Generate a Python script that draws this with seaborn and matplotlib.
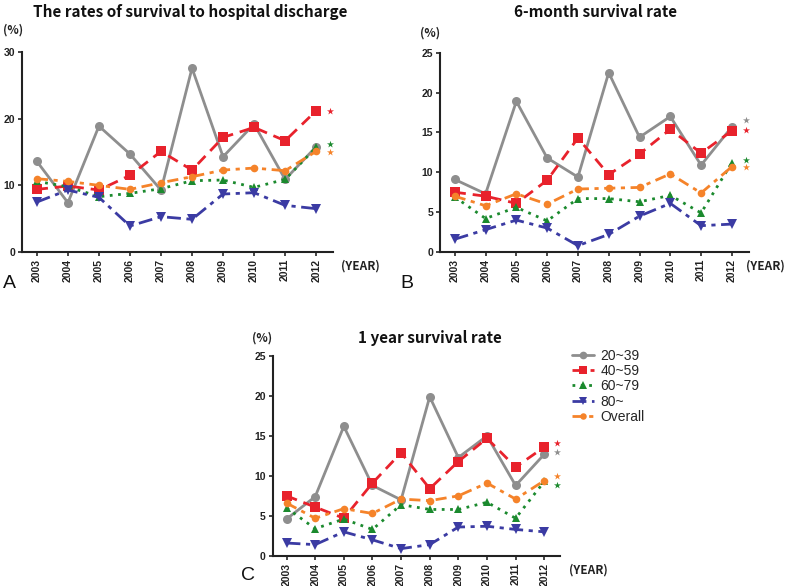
import pandas as pd
import matplotlib.pyplot as plt
import seaborn as sns

# Data
years = ["2003", "2004", "2005", "2006", "2007", "2008", "2009", "2010", "2011", "2012"]
groups = ["20~39", "40~59", "60~79", "80~", "Overall"]

# A: survival to hospital discharge
a_2039 = [13.6, 7.4, 18.9, 14.7, 9.3, 27.6, 14.3, 19.2, 10.9, 15.8]
a_4059 = [9.4, 9.9, 9.3, 11.5, 15.1, 12.3, 17.2, 18.7, 16.7, 21.2]
a_6079 = [10.6, 9.8, 8.3, 8.8, 9.5, 10.7, 10.8, 9.7, 10.9, 15.7]
a_80 = [7.5, 9.3, 8.2, 3.9, 5.3, 4.9, 8.7, 8.9, 7.0, 6.5]
a_all = [11.0, 10.6, 10.0, 9.4, 10.4, 11.3, 12.3, 12.6, 12.2, 15.1]

# B: 6-month survival
b_2039 = [9.1, 7.3, 18.9, 11.8, 9.4, 22.5, 14.4, 17.0, 10.9, 15.7]
b_4059 = [7.5, 7.0, 6.1, 9.0, 14.3, 9.7, 12.3, 15.4, 12.4, 15.2]
b_6079 = [6.9, 4.2, 5.6, 3.9, 6.7, 6.7, 6.3, 7.1, 4.9, 11.2]
b_80 = [1.6, 2.8, 4.0, 3.0, 0.8, 2.2, 4.5, 6.1, 3.3, 3.5]
b_all = [7.0, 5.8, 7.3, 6.0, 7.9, 8.0, 8.1, 9.8, 7.4, 10.7]

# C: 1 year survival
c_2039 = [4.6, 7.4, 16.2, 8.8, 7.0, 19.9, 12.3, 15.0, 8.8, 12.7]
c_4059 = [7.5, 6.1, 4.7, 9.1, 12.9, 8.4, 11.8, 14.7, 11.1, 13.6]
c_6079 = [6.0, 3.4, 4.6, 3.3, 6.4, 5.8, 5.8, 6.7, 4.7, 9.3]
c_80 = [1.6, 1.4, 3.0, 2.0, 0.9, 1.4, 3.6, 3.7, 3.3, 3.0]
c_all = [6.6, 4.7, 5.9, 5.3, 7.1, 6.9, 7.5, 9.1, 7.1, 9.4]

# significance stars (group, value)
a_stars = [("40~59", 21.2), ("60~79", 16.2), ("Overall", 15.0)]
b_stars = [("20~39", 16.5), ("40~59", 15.3), ("60~79", 11.6), ("Overall", 10.7)]
c_stars = [("40~59", 14.1), ("20~39", 13.0), ("Overall", 10.0), ("60~79", 8.9)]

colors = {"20~39": "#8e8e8e", "40~59": "#e8222c", "60~79": "#1b8a2e",
          "80~": "#3b3ba3", "Overall": "#f5832a"}
markers = {"20~39": "o", "40~59": "s", "60~79": "^", "80~": "v", "Overall": "o"}
msizes = {"20~39": 6.5, "40~59": 6.5, "60~79": 6, "80~": 6.5, "Overall": 5.5}
dashes = {"20~39": "-", "40~59": (0, (4, 2.5)), "60~79": (0, (1, 2)),
          "80~": (0, (5, 2, 1.5, 2)), "Overall": (0, (4, 2, 1.5, 2))}

sns.set_style("ticks")
plt.rcParams["font.family"] = ["Liberation Sans", "DejaVu Sans"]
HEAD = ["Noto Sans CJK KR", "DejaVu Sans"]

fig = plt.figure(figsize=(8, 5.86), dpi=100)


def panel(rect, series, stars, ymax, ystep, title, title_xy, pct_xy, year_xy, letter, letter_xy):
    ax = fig.add_axes(rect)
    df = pd.DataFrame({"year": years * len(groups),
                       "group": [g for g in groups for _ in years],
                       "value": [v for s in series for v in s]})
    for g in groups:
        d = df[df["group"] == g]
        sns.lineplot(data=d, x="year", y="value", ax=ax, color=colors[g],
                     marker=markers[g], markersize=msizes[g], markeredgewidth=0,
                     linestyle=dashes[g], linewidth=2, sort=False, label=g, legend=False)
    for g, v in stars:
        ax.scatter([len(years) - 1 + 0.45], [v], marker="*", s=28, color=colors[g],
                   linewidths=0, zorder=5, clip_on=False)
    ax.set_xlim(-0.48, len(years) - 1 + 0.55)
    ax.set_ylim(0, ymax)
    ax.set_yticks(range(0, ymax + 1, ystep))
    ax.set_xlabel("")
    ax.set_ylabel("")
    ax.tick_params(axis="x", rotation=90, labelsize=7.5, length=3, width=1.2, pad=2)
    ax.tick_params(axis="y", labelsize=7.5, length=3, width=1.2, pad=2)
    for lab in ax.get_xticklabels() + ax.get_yticklabels():
        lab.set_fontweight("bold")
        lab.set_color("#222222")
    for sp in ["left", "bottom"]:
        ax.spines[sp].set_linewidth(1.5)
        ax.spines[sp].set_color("#222222")
    sns.despine(ax=ax)
    fig.text(title_xy[0] / 800, 1 - title_xy[1] / 586, title, ha="center", va="center",
             fontsize=11, fontweight="bold", color="#111111", family=HEAD)
    fig.text(pct_xy[0] / 800, 1 - pct_xy[1] / 586, "(%)", ha="center", va="center",
             fontsize=8.5, fontweight="bold", color="#222222", family=HEAD)
    fig.text(year_xy[0] / 800, 1 - year_xy[1] / 586, "(YEAR)", ha="center", va="center",
             fontsize=8.5, fontweight="bold", color="#222222", family=HEAD)
    fig.text(letter_xy[0] / 800, 1 - letter_xy[1] / 586, letter, ha="center", va="center",
             fontsize=14, color="#111111")
    return ax


panel([0.0275, 0.570, 0.389, 0.341], [a_2039, a_4059, a_6079, a_80, a_all], a_stars, 30, 10,
      "The rates of survival to hospital discharge", (190, 12), (13, 30), (360, 266), "A", (9, 283))
panel([0.550, 0.570, 0.386, 0.340], [b_2039, b_4059, b_6079, b_80, b_all], b_stars, 25, 5,
      "6-month survival rate", (595, 12), (430, 33), (765, 266), "B", (407, 283))
axc = panel([0.341, 0.0515, 0.359, 0.341], [c_2039, c_4059, c_6079, c_80, c_all], c_stars, 25, 5,
            "1 year survival rate", (430, 338), (262, 338), (588, 570), "C", (248, 576))

handles, labels = axc.get_legend_handles_labels()
fig.legend(handles, labels, loc="upper left", bbox_to_anchor=(566 / 800, 1 - 343 / 586),
           frameon=False, fontsize=10, handlelength=1.6, labelspacing=0.1,
           handletextpad=0.5, borderaxespad=0, markerscale=0.85)

fig.savefig("out.png", dpi=100)
